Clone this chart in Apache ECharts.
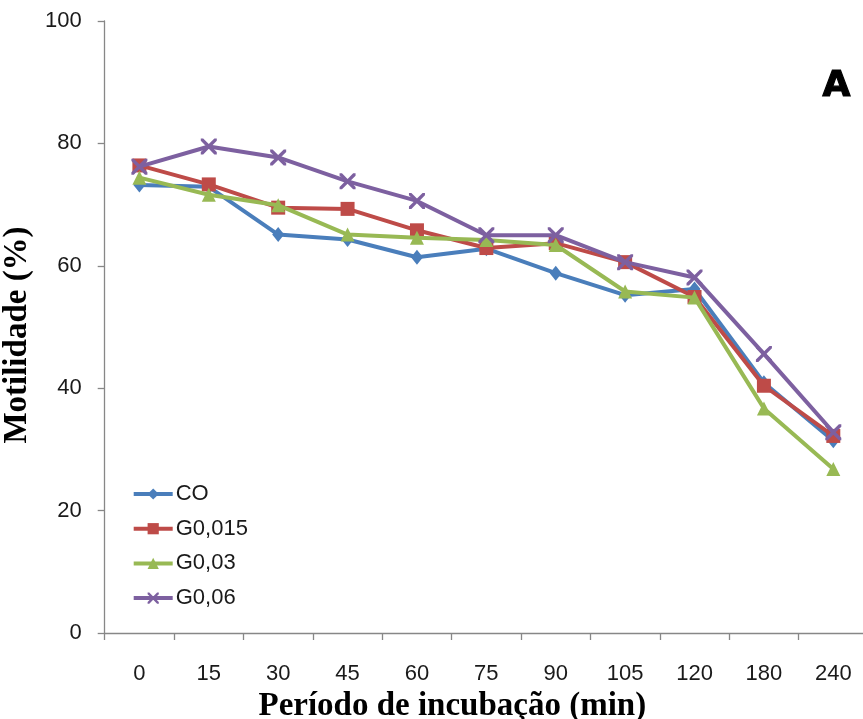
<!DOCTYPE html>
<html>
<head>
<meta charset="utf-8">
<script src="https://cdn.jsdelivr.net/npm/echarts@6/dist/echarts.min.js"></script>
<style>
html,body{margin:0;padding:0;background:#fff;}
#chart{width:863px;height:719px;}
</style>
</head>
<body>
<div id="chart"></div>
<script>
const categories = ['0','15','30','45','60','75','90','105','120','180','240'];
const seriesNames = ['CO','G0,015','G0,03','G0,06'];
const CO      = [73.2, 72.9, 65.1, 64.3, 61.4, 62.8, 58.8, 55.2, 56.2, 40.9, 31.4];
const G0_015  = [76.4, 73.3, 69.5, 69.3, 65.8, 62.9, 63.7, 60.6, 54.9, 40.4, 32.2];
const G0_03   = [74.4, 71.6, 69.9, 65.1, 64.6, 64.2, 63.4, 55.8, 54.8, 36.7, 26.8];
const G0_06   = [76.2, 79.5, 77.7, 73.8, 70.6, 65.0, 65.0, 60.6, 58.1, 45.6, 32.8];
const yTicks = {min: 0, max: 100, interval: 20};

const colors = ['#4A7EBB', '#BE4B48', '#98B954', '#7D60A0'];
const xPath = 'path://M0,0 L1.5,0 L5,3.5 L8.5,0 L10,0 L10,1.5 L6.5,5 L10,8.5 L10,10 L8.5,10 L5,6.5 L1.5,10 L0,10 L0,8.5 L3.5,5 L0,1.5 Z';
const symbols = ['diamond', 'rect', 'triangle', xPath];
const sizes = [[12,15], 14, 14, 16];
const dataSets = [CO, G0_015, G0_03, G0_06];

const chart = echarts.init(document.getElementById('chart'), null, {renderer: 'canvas'});
const option = {
  animation: false,
  backgroundColor: '#fff',
  grid: {left: 104.7, right: -5, top: 21, bottom: 86, containLabel: false, outerBoundsMode: 'none'},
  legend: {
    orient: 'vertical',
    left: 126.7,
    top: 477,
    itemWidth: 39,
    itemHeight: 14,
    itemGap: 10.7,
    data: seriesNames,
    lineStyle: {width: 4},
    textStyle: {fontFamily: 'Liberation Sans', fontSize: 22, color: '#1a1a1a', lineHeight: 24, padding: [0,0,0,-2]}
  },
  xAxis: {
    type: 'category',
    data: categories,
    boundaryGap: true,
    name: 'Período de incubação (min)',
    nameLocation: 'middle',
    nameGap: 54,
    nameTextStyle: {fontFamily: 'Liberation Serif', fontWeight: 'bold', fontSize: 33, color: '#000', padding: [0, 68, 0, 0]},
    axisLine: {lineStyle: {color: '#878787', width: 1.3}},
    axisTick: {show: true, alignWithLabel: false, length: 7, lineStyle: {color: '#878787', width: 1.3}},
    axisLabel: {fontFamily: 'Liberation Sans', fontSize: 22, color: '#1a1a1a', margin: 30},
    splitLine: {show: false}
  },
  yAxis: {
    type: 'value',
    min: yTicks.min, max: yTicks.max, interval: yTicks.interval,
    name: 'Motilidade (%)',
    nameLocation: 'middle',
    nameGap: 58,
    nameTextStyle: {fontFamily: 'Liberation Serif', fontWeight: 'bold', fontSize: 33, color: '#000', padding: [0, 16, 0, 0]},
    axisLine: {show: true, lineStyle: {color: '#878787', width: 1.3}},
    axisTick: {show: true, length: 7, lineStyle: {color: '#878787', width: 1.3}},
    axisLabel: {fontFamily: 'Liberation Sans', fontSize: 22, color: '#1a1a1a', margin: 23},
    splitLine: {show: false}
  },
  graphic: [{
    type: 'text',
    left: 822, top: 68,
    style: {text: 'A', fontFamily: 'DejaVu Sans', fontWeight: 'bold', fontSize: 36, fill: '#000', stroke: '#000', lineWidth: 1.2}
  }],
  series: seriesNames.map((n, i) => ({
    name: n,
    type: 'line',
    data: dataSets[i],
    symbol: symbols[i],
    symbolSize: sizes[i],
    showSymbol: true,
    lineStyle: {color: colors[i], width: 4},
    itemStyle: {color: colors[i], borderWidth: 0},
    emphasis: {disabled: true},
    z: 2 + i
  }))
};
chart.setOption(option);
</script>
</body>
</html>
